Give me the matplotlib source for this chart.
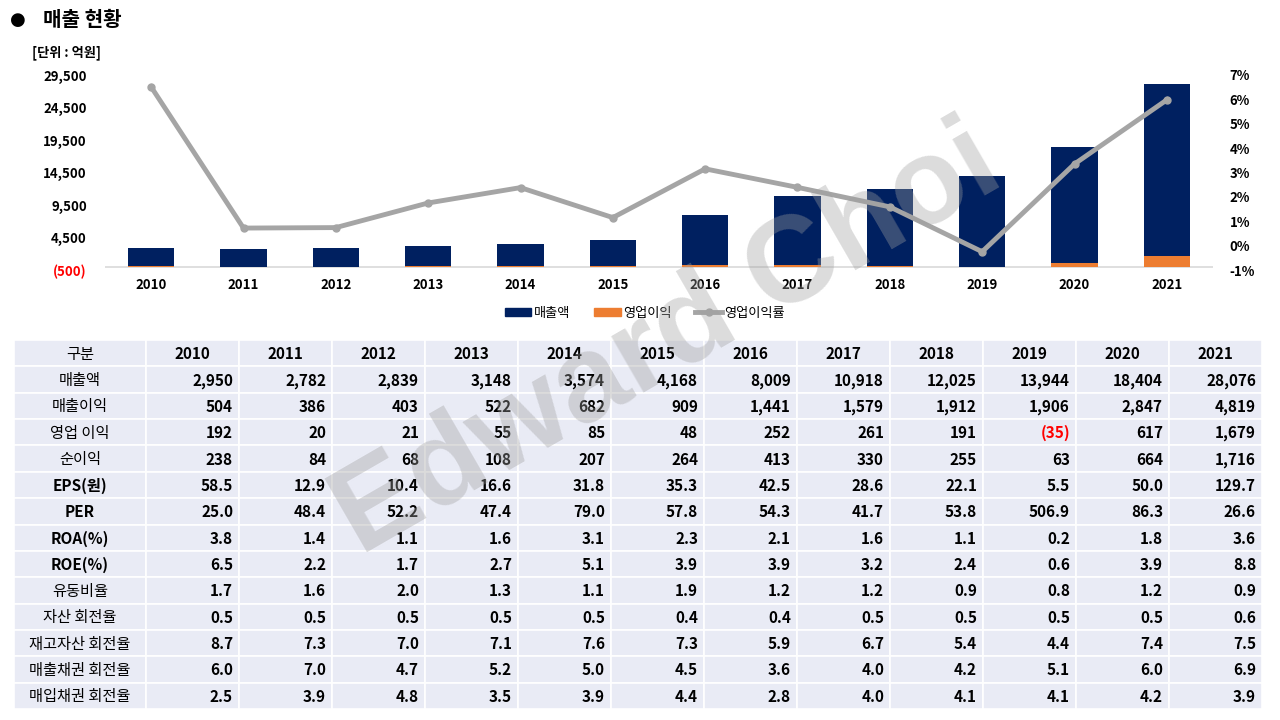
import matplotlib
matplotlib.use('Agg')
import matplotlib.pyplot as plt
from matplotlib.patches import Patch, Rectangle
from matplotlib.lines import Line2D
import numpy as np

plt.rcParams['font.family'] = ['Noto Sans CJK KR', 'DejaVu Sans']

# chart data
years = ['2010', '2011', '2012', '2013', '2014', '2015', '2016', '2017', '2018', '2019', '2020', '2021']
sales = [2950, 2782, 2839, 3148, 3574, 4168, 8009, 10918, 12025, 13944, 18404, 28076]
op_profit = [192, 20, 21, 55, 85, 48, 252, 261, 191, -35, 617, 1679]
op_margin = [6.51, 0.72, 0.74, 1.75, 2.38, 1.15, 3.15, 2.39, 1.59, -0.25, 3.35, 5.98]

# table data
row_labels = ['매출액', '매출이익', '영업 이익', '순이익', 'EPS(원)', 'PER', 'ROA(%)', 'ROE(%)',
              '유동비율', '자산 회전율', '재고자산 회전율', '매출채권 회전율', '매입채권 회전율']
row_sales = ['2,950', '2,782', '2,839', '3,148', '3,574', '4,168', '8,009', '10,918', '12,025', '13,944', '18,404', '28,076']
row_gross = ['504', '386', '403', '522', '682', '909', '1,441', '1,579', '1,912', '1,906', '2,847', '4,819']
row_op = ['192', '20', '21', '55', '85', '48', '252', '261', '191', '(35)', '617', '1,679']
row_net = ['238', '84', '68', '108', '207', '264', '413', '330', '255', '63', '664', '1,716']
row_eps = ['58.5', '12.9', '10.4', '16.6', '31.8', '35.3', '42.5', '28.6', '22.1', '5.5', '50.0', '129.7']
row_per = ['25.0', '48.4', '52.2', '47.4', '79.0', '57.8', '54.3', '41.7', '53.8', '506.9', '86.3', '26.6']
row_roa = ['3.8', '1.4', '1.1', '1.6', '3.1', '2.3', '2.1', '1.6', '1.1', '0.2', '1.8', '3.6']
row_roe = ['6.5', '2.2', '1.7', '2.7', '5.1', '3.9', '3.9', '3.2', '2.4', '0.6', '3.9', '8.8']
row_curr = ['1.7', '1.6', '2.0', '1.3', '1.1', '1.9', '1.2', '1.2', '0.9', '0.8', '1.2', '0.9']
row_asset = ['0.5', '0.5', '0.5', '0.5', '0.5', '0.4', '0.4', '0.5', '0.5', '0.5', '0.5', '0.6']
row_inv = ['8.7', '7.3', '7.0', '7.1', '7.6', '7.3', '5.9', '6.7', '5.4', '4.4', '7.4', '7.5']
row_recv = ['6.0', '7.0', '4.7', '5.2', '5.0', '4.5', '3.6', '4.0', '4.2', '5.1', '6.0', '6.9']
row_pay = ['2.5', '3.9', '4.8', '3.5', '3.9', '4.4', '2.8', '4.0', '4.1', '4.1', '4.2', '3.9']
table_rows = [row_sales, row_gross, row_op, row_net, row_eps, row_per, row_roa, row_roe,
              row_curr, row_asset, row_inv, row_recv, row_pay]

NAVY = '#002060'
ORANGE = '#ED7D31'
GRAY = '#A5A5A5'
TABLE_BG = '#E9EBF5'

fig = plt.figure(figsize=(12.8, 7.2), dpi=100)

# ---- chart ----
ax = fig.add_axes([105 / 1280, 1 - 270 / 720, (1213 - 105) / 1280, 195 / 720])
x = np.arange(len(years))
ax.bar(x, sales, width=0.5, color=NAVY, zorder=2)
ax.bar(x, op_profit, width=0.5, color=ORANGE, zorder=3)
ax.axhline(0, color='#D9D9D9', lw=1.2, zorder=1)
ax.set_xlim(-0.5, len(years) - 0.5)
ax.set_ylim(-500, 29500)
yt = np.arange(-500, 29501, 5000)
ax.set_yticks(yt)
ax.set_yticklabels(['({:,})'.format(-v) if v < 0 else '{:,}'.format(v) for v in yt])
for lbl, v in zip(ax.get_yticklabels(), yt):
    if v < 0:
        lbl.set_color('red')
ax.set_xticks(x)
ax.set_xticklabels(years)
ax.tick_params(length=0, labelsize=9.5)
ax.tick_params(axis='y', pad=13)
ax.tick_params(axis='x', pad=6)
for lbl in ax.get_xticklabels() + ax.get_yticklabels():
    lbl.set_fontweight('bold')
for s in ax.spines.values():
    s.set_visible(False)

ax2 = ax.twinx()
ax2.plot(x, op_margin, color=GRAY, lw=3.5, marker='o', markersize=5, zorder=4)
ax2.set_ylim(-1, 7)
ax2.set_yticks(range(-1, 8))
ax2.set_yticklabels(['{}%'.format(v) for v in range(-1, 8)])
ax2.tick_params(length=0, labelsize=9.5, pad=12)
for lbl in ax2.get_yticklabels():
    lbl.set_fontweight('bold')
for s in ax2.spines.values():
    s.set_visible(False)

handles = [Patch(color=NAVY, label='매출액'), Patch(color=ORANGE, label='영업이익'),
           Line2D([0], [0], color=GRAY, lw=3.5, marker='o', markersize=5, label='영업이익률')]
fig.legend(handles=handles, loc='center', bbox_to_anchor=(645 / 1280, 1 - 313 / 720), ncol=3,
           frameon=False, fontsize=9.5, handlelength=2.0, handleheight=0.6, columnspacing=1.8,
           handletextpad=0.2)

# ---- titles and table (pixel coordinates) ----
tx = fig.add_axes([0, 0, 1, 1], zorder=-1)
tx.set_xlim(0, 1280)
tx.set_ylim(720, 0)
tx.axis('off')
tx.text(10, 20, '●', fontsize=13, va='center', ha='left', family=['DejaVu Sans'])
tx.text(43, 20, '매출 현황', fontsize=14.5, fontweight='bold', va='center', ha='left')
tx.text(32, 53, '[단위 : 억원]', fontsize=9.5, fontweight='bold', va='center', ha='left')

left, first_w, col_w = 14, 132, 93
top, row_h = 340, (709 - 340) / 14
n_rows = len(table_rows) + 1
for r in range(n_rows):
    y0 = top + r * row_h
    cells = [(left, first_w)] + [(left + first_w + c * col_w, col_w) for c in range(len(years))]
    for cx, cw in cells:
        tx.add_patch(Rectangle((cx, y0), cw, row_h, facecolor=TABLE_BG, edgecolor='white', lw=1.2))
    yc = y0 + row_h / 2 + 1
    if r == 0:
        tx.text(left + first_w / 2, yc, '구분', ha='center', va='center', fontsize=11, fontweight='medium')
        for c, yr in enumerate(years):
            tx.text(left + first_w + c * col_w + col_w / 2, yc, yr, ha='center', va='center',
                    fontsize=11, fontweight='bold')
    else:
        label = row_labels[r - 1]
        weight = 'bold' if label[0].isascii() else 'medium'
        tx.text(left + first_w / 2, yc, label, ha='center', va='center', fontsize=11, fontweight=weight)
        for c, val in enumerate(table_rows[r - 1]):
            color = 'red' if val.startswith('(') else 'black'
            tx.text(left + first_w + (c + 1) * col_w - 6, yc, val, ha='right', va='center',
                    fontsize=11, fontweight='bold', color=color)

# watermark
fig.text(668 / 1280, 1 - 342 / 720, 'Edward Choi', fontsize=88, fontweight='bold',
         family=['Liberation Sans'], color='#9F9F9F', alpha=0.37, rotation=30,
         ha='center', va='center', rotation_mode='anchor', zorder=10)

fig.savefig('out.png', dpi=100)
